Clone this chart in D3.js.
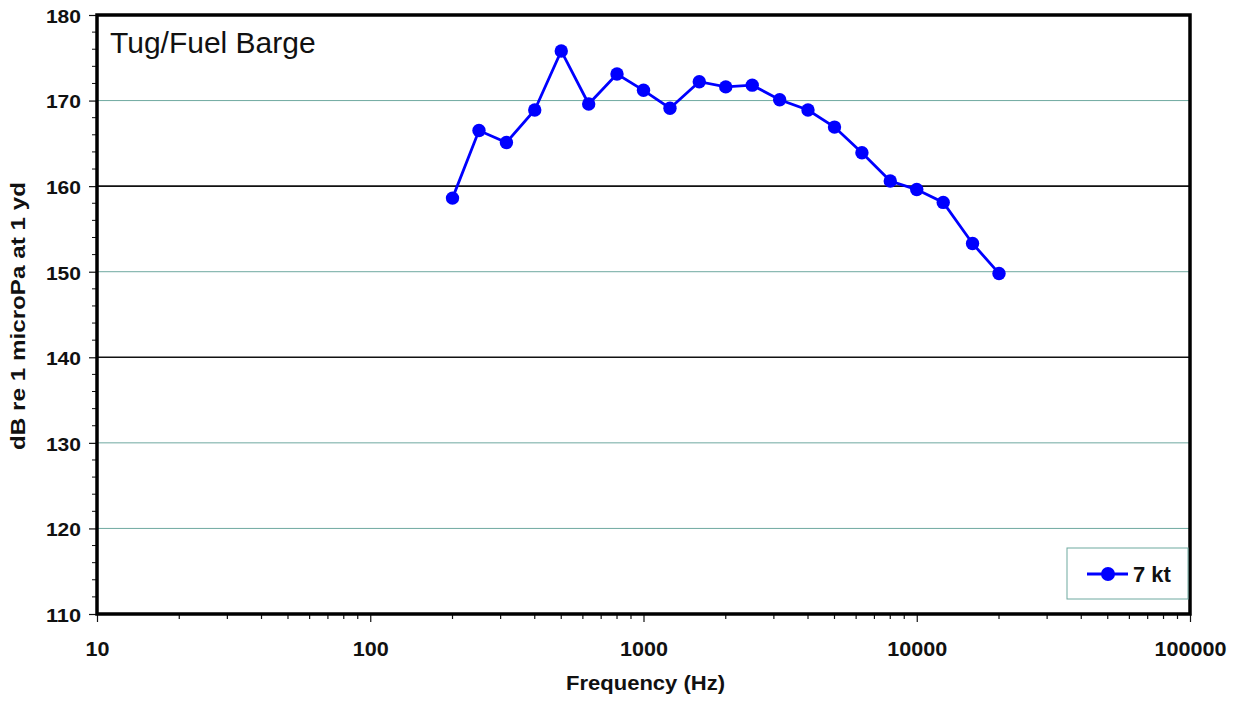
<!DOCTYPE html>
<html lang="en">
<head>
<meta charset="utf-8">
<title>Tug/Fuel Barge</title>
<script src="https://d3js.org/d3.v7.min.js"></script>
<style>
  body { margin: 0; background: #fff; }
  text { font-family: "Liberation Sans", Arial, sans-serif; fill: #111; }
</style>
</head>
<body>
<div id="chart"></div>
<script>
// one-third octave band centre frequencies (Hz)
const freqs = [200, 250, 315, 400, 500, 630, 800, 1000, 1250, 1600, 2000,
               2500, 3150, 4000, 5000, 6300, 8000, 10000, 12500, 16000, 20000];
// source level, dB re 1 microPa at 1 yd, 7 kt
const levels7kt = [158.6, 166.5, 165.1, 168.9, 175.8, 169.6, 173.1, 171.2, 169.1, 172.2, 171.6,
                   171.8, 170.1, 168.9, 166.9, 163.9, 160.6, 159.6, 158.1, 153.3, 149.8];
const xTicks = [10, 100, 1000, 10000, 100000];
const yTicks = [110, 120, 130, 140, 150, 160, 170, 180];
const darkGrid = [140, 160];
const seriesName = "7 kt";
const chartTitle = "Tug/Fuel Barge";

const W = 1248, H = 703;
const margin = {top: 15, right: 58, bottom: 89, left: 97};
const width = W - margin.left - margin.right;
const height = H - margin.top - margin.bottom;

const svg = d3.select("#chart").append("svg")
    .attr("width", W).attr("height", H);

const g = svg.append("g")
    .attr("transform", "translate(" + margin.left + "," + margin.top + ")");

const x = d3.scaleLog().domain([10, 100000]).range([0, width]);
const y = d3.scaleLinear().domain([110, 180]).range([height, 0]);

// gridlines
g.append("g").selectAll("line")
    .data(yTicks.filter(d => d > 110 && d < 180))
    .join("line")
    .attr("x1", 0).attr("x2", width)
    .attr("y1", d => y(d)).attr("y2", d => y(d))
    .attr("stroke", d => darkGrid.includes(d) ? "#111" : "#6fa9a0")
    .attr("stroke-width", d => darkGrid.includes(d) ? 1.6 : 1);

// minor y ticks
const yMinor = d3.range(110, 180.1, 2).filter(d => d % 10 !== 0);
g.append("g").selectAll("line")
    .data(yMinor).join("line")
    .attr("x1", -5).attr("x2", 0)
    .attr("y1", d => y(d)).attr("y2", d => y(d))
    .attr("stroke", "#111").attr("stroke-width", 1);

// minor x ticks
const xMinor = [];
for (let dec = 10; dec < 100000; dec *= 10)
    for (let k = 2; k <= 9; k++) xMinor.push(dec * k);
g.append("g").selectAll("line")
    .data(xMinor).join("line")
    .attr("x1", d => x(d)).attr("x2", d => x(d))
    .attr("y1", height).attr("y2", height + 5)
    .attr("stroke", "#111").attr("stroke-width", 1.2);

// axes
const yAxis = d3.axisLeft(y).tickValues(yTicks).tickSize(8).tickPadding(8).tickFormat(d3.format("d"));
const xAxis = d3.axisBottom(x).tickValues(xTicks).tickSize(8).tickPadding(20).tickFormat(d3.format("d"));

const ya = g.append("g").call(yAxis);
const xa = g.append("g").attr("transform", "translate(0," + height + ")").call(xAxis);
[ya, xa].forEach(a => {
    a.select(".domain").remove();
    a.selectAll(".tick line").attr("stroke", "#111").attr("stroke-width", 1.2);
    a.selectAll(".tick text")
        .attr("font-family", "Liberation Sans, Arial, sans-serif")
        .attr("font-weight", "bold").attr("fill", "#111")
        .attr("lengthAdjust", "spacingAndGlyphs");
});
ya.selectAll(".tick text").attr("font-size", 18.5).attr("dy", "0.4em")
    .attr("textLength", d => String(d).length * 11.7);
xa.selectAll(".tick text").attr("font-size", 19.5)
    .attr("textLength", d => String(d).length * 12);

// frame
g.append("rect")
    .attr("x", 0).attr("y", 0).attr("width", width).attr("height", height)
    .attr("fill", "none").attr("stroke", "#000").attr("stroke-width", 3.5);

// series
const line = d3.line().x(d => x(d[0])).y(d => y(d[1]));
const pts = freqs.map((f, i) => [f, levels7kt[i]]);
g.append("path").datum(pts)
    .attr("fill", "none").attr("stroke", "#0000ff").attr("stroke-width", 2.8)
    .attr("d", line);
g.append("g").selectAll("circle")
    .data(pts).join("circle")
    .attr("cx", d => x(d[0])).attr("cy", d => y(d[1]))
    .attr("r", 6.7).attr("fill", "#0000ff");

// title inside plot
g.append("text")
    .attr("x", 13).attr("y", 38)
    .attr("font-size", 30)
    .text(chartTitle);

// legend
const lg = g.append("g").attr("transform", "translate(" + (width - 123) + "," + (height - 66) + ")");
lg.append("rect").attr("width", 121).attr("height", 51)
    .attr("fill", "#fff").attr("stroke", "#6fa9a0").attr("stroke-width", 1);
lg.append("line").attr("x1", 20).attr("x2", 61).attr("y1", 26).attr("y2", 26)
    .attr("stroke", "#0000ff").attr("stroke-width", 2.8);
lg.append("circle").attr("cx", 41).attr("cy", 26).attr("r", 7).attr("fill", "#0000ff");
lg.append("text").attr("x", 66).attr("y", 34)
    .attr("font-size", 22).attr("font-weight", "bold").text(seriesName);

// axis titles
svg.append("text")
    .attr("x", 645.5).attr("y", 690)
    .attr("text-anchor", "middle")
    .attr("font-size", 21).attr("font-weight", "bold")
    .attr("textLength", 159).attr("lengthAdjust", "spacingAndGlyphs")
    .text("Frequency (Hz)");
svg.append("text")
    .attr("transform", "translate(25,316) rotate(-90)")
    .attr("text-anchor", "middle")
    .attr("font-size", 21).attr("font-weight", "bold")
    .attr("textLength", 268).attr("lengthAdjust", "spacingAndGlyphs")
    .text("dB re 1 microPa at 1 yd");
</script>
</body>
</html>
